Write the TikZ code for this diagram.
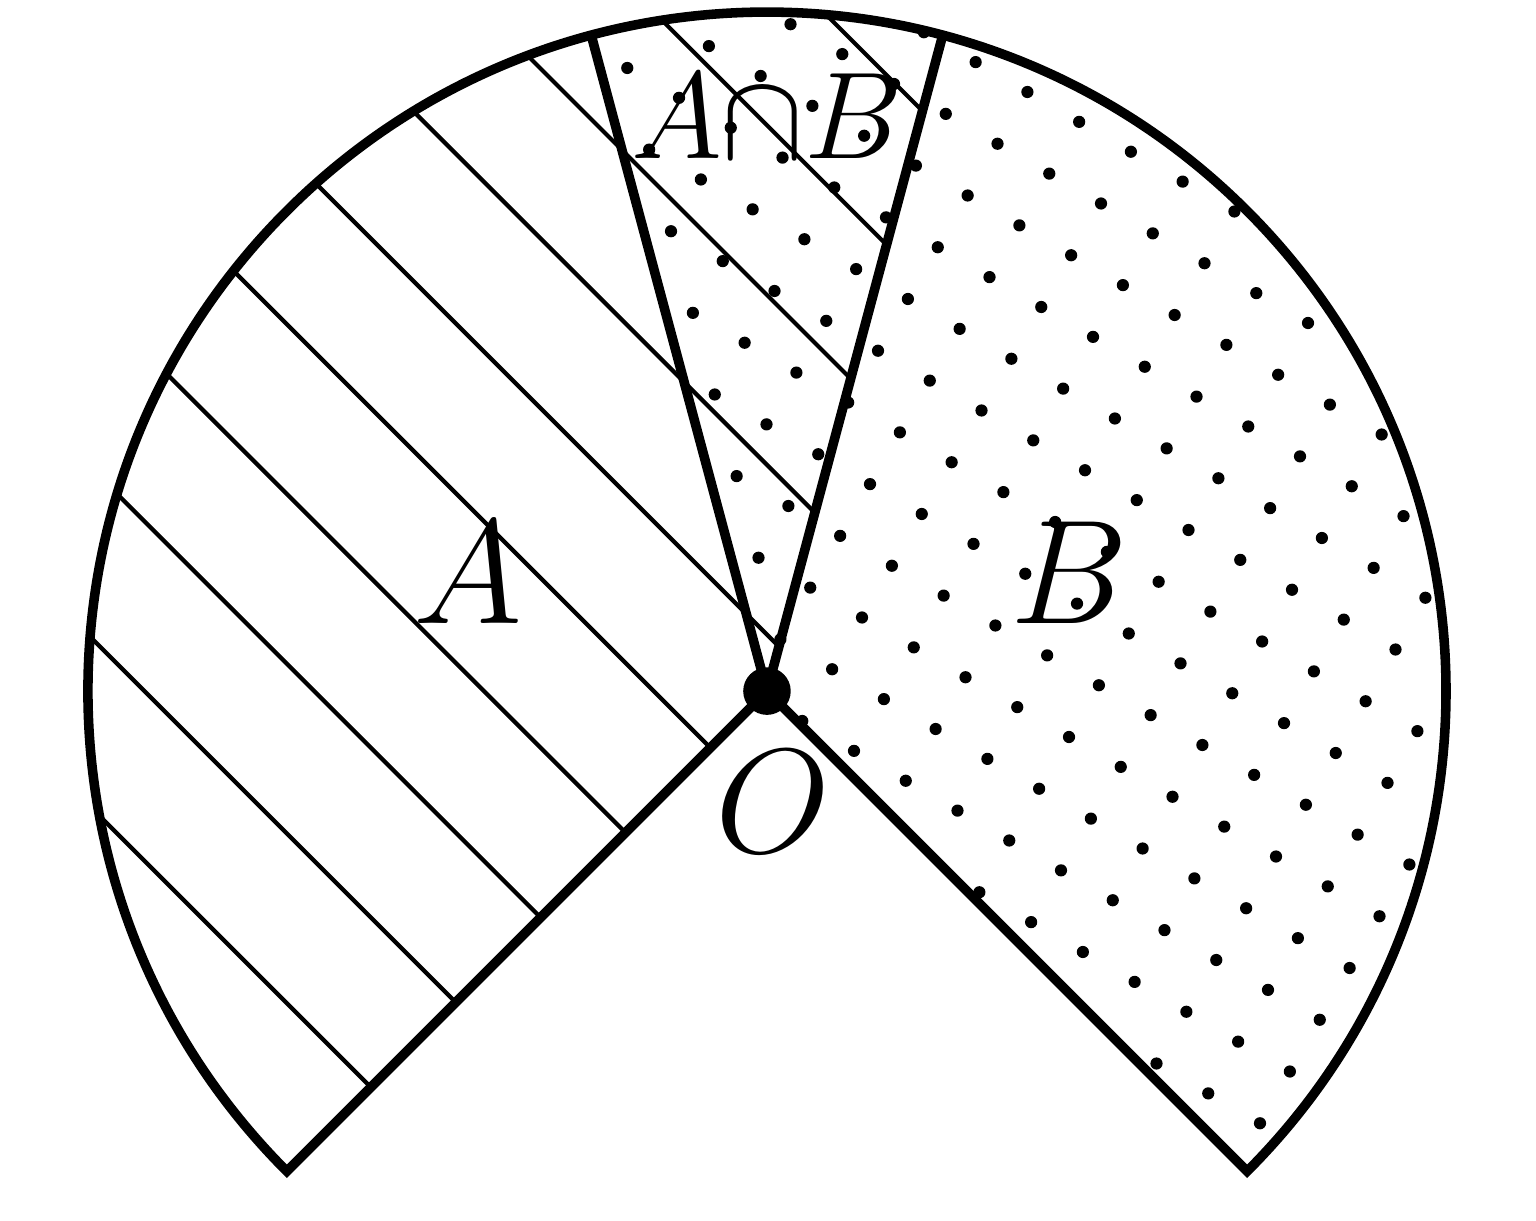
\documentclass[tikz,border=0pt]{standalone}
\begin{document}
\begin{tikzpicture}[
  outline/.style={line width=1.6pt, line join=miter},
  hatchline/.style={line width=0.7pt},
  dotfill/.style={fill=black},
  biglabel/.style={font=\fontsize{25}{30}\selectfont, inner sep=0pt, anchor=base},
  smalllabel/.style={font=\fontsize{20.5}{24}\selectfont, inner sep=0pt, anchor=base}
]
\useasboundingbox (-4.518,-3.116) rectangle (4.530,4.071);
% hatching of A (sector 75..225)
\begin{scope}
  \clip (0,0) -- (225:4) arc[start angle=225, end angle=75, radius=4] -- cycle;
  \foreach \c in {-4.6667,-3.6667,-2.6667,-1.6667,-0.6667,0.3333,1.3333,2.3333,3.3333,4.3333}
    \draw[hatchline] ({\c/2-6},{\c/2+6}) -- ({\c/2+6},{\c/2-6});
\end{scope}
% dots of B (sector -45..105)
\begin{scope}
  \clip (0,0) -- (-45:4) arc[start angle=-45, end angle=105, radius=4] -- cycle;
  \foreach \i in {-13,...,13}
    \foreach \j in {-13,...,13}
      \fill[dotfill] ({-0.097+0.30484*\i+0.176*\j},{-0.176*\i+0.30484*\j}) circle (0.036);
\end{scope}
% outlines
\coordinate (O) at (0,0);
\coordinate (pL) at (225:4);
\coordinate (pR) at (-45:4);
\coordinate (pA) at (75:4);
\coordinate (pB) at (105:4);
\draw[outline] (O) -- (pR) arc[start angle=-45, end angle=225, radius=4] -- cycle;
\draw[outline] (O) -- (pA);
\draw[outline] (O) -- (pB);
\node[circle, fill=black, minimum size=0.28cm, inner sep=0pt] (Odot) at (O) {};
% labels
\node[biglabel] (labA) at (-1.76,0.40) {$A$};
\node[biglabel] (labB) at (1.78,0.40) {$B$};
\node[biglabel] (labO) at (0.035,-0.95) {$O$};
\node[smalllabel] (labAB) at (0.0,3.14) {$A{\cap}B$};
\end{tikzpicture}
\end{document}
